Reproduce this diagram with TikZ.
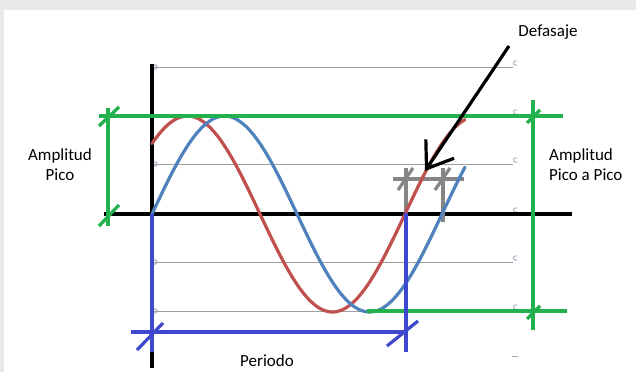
\documentclass[tikz,border=0pt]{standalone}
\usepackage{fontspec}
\setmainfont{Carlito}
\usetikzlibrary{calc,arrows.meta}
\definecolor{bggray}{HTML}{E8E8EA}
\definecolor{wavered}{HTML}{C0504D}
\definecolor{waveblue}{HTML}{4F81BD}
\definecolor{ampgreen}{HTML}{22B14C}
\definecolor{perblue}{HTML}{3F48CC}
\definecolor{phasegray}{HTML}{858585}
\definecolor{markgray}{HTML}{95A3B5}
\begin{document}
\begin{tikzpicture}[x=1pt,y=-1pt,
every node/.style={font=\fontsize{17}{20}\selectfont,inner sep=0pt},
gridln/.style={draw=gray!75,line width=1pt},
endmark/.style={draw=markgray,line width=.8pt},
axis/.style={draw=black,line width=3.2pt},
wave/.style={line width=3.2pt,line cap=round},
amp/.style={draw=ampgreen,line width=3.3pt},
per/.style={draw=perblue,line width=3.2pt},
phaseln/.style={draw=phasegray,line width=3.2pt}]
\useasboundingbox (0,0) rectangle (636,372);
\fill[bggray] (0,0) rectangle (636,372);
\fill[white] (4,10) rectangle (636,372);
% grid lines
\foreach \y in {67,116,164,214,262,311} {
  \draw[gridln] (154,\y) -- (513,\y);
  \draw[endmark] (517,\y-2) arc (60:300:2.3);
}
\foreach \y in {67,164,262,311}
  \draw[endmark] (155,\y) circle (2.2);
\draw[endmark] (512,356) -- (518,356);
% axes
\coordinate (o) at (152,214);
\coordinate (ytop) at (152,64);
\coordinate (ybot) at (152,368);
\coordinate (xl) at (104,214);
\coordinate (xr) at (572,214);
\draw[axis] (ytop) -- (ybot);
\draw[axis] (xl) -- (xr);
% phase markers
\coordinate (sh1) at (406,179);
\coordinate (sh2) at (443,179);
\draw[phaseln] (393,179) -- (464,179);
\draw[phaseln] (406,168) -- (406,214);
\draw[phaseln] (443,168) -- (443,222);
\draw[phaseln] ($(sh1)+(-8,11)$) -- ($(sh1)+(7,-11)$);
\draw[phaseln] ($(sh2)+(-8,11)$) -- ($(sh2)+(7,-11)$);
% waves (period 290)
\draw[wave,draw=wavered] plot[domain=152:465,samples=120] (\x,{214-98*sin(1.24138*(\x-115))});
\draw[wave,draw=waveblue] plot[domain=152:465,samples=120] (\x,{214-98*sin(1.24138*(\x-152))});
% peak amplitude
\coordinate (at) at (108,116);
\coordinate (ab) at (108,214);
\draw[amp] (99,116) -- (563,116);
\draw[amp] (108,108) -- (108,226);
\draw[amp] ($(at)+(-9,10)$) -- ($(at)+(11,-9)$);
\draw[amp] ($(ab)+(-9,12)$) -- ($(ab)+(11,-9)$);
% peak to peak
\coordinate (pt) at (533,116);
\coordinate (pb) at (533,311);
\draw[amp] (367,311) -- (567,311);
\draw[amp] (533,100) -- (533,330);
\draw[amp] ($(pt)+(-6,7)$) -- ($(pt)+(7,-6)$);
\draw[amp] ($(pb)+(-6,8)$) -- ($(pb)+(7,-5)$);
% period
\coordinate (pl) at (152,332);
\coordinate (pr) at (406,332);
\draw[per] (o) -- (152,352);
\draw[per] (406,213) -- (406,352);
\draw[per] (131,332) -- (pr);
\draw[per] ($(pl)+(-15,18)$) -- ($(pl)+(11,-9)$);
\draw[per] ($(pr)+(-19,14)$) -- ($(pr)+(12,-11)$);
% labels
\node[align=center] (lblpico) at (60,165) {Amplitud\\Pico};
\node[align=left,anchor=west] (lblpp) at (549,165) {Amplitud\\Pico a Pico};
\node (lbldef) at (548,32) {Defasaje};
\node (lblper) at (267,361) {Periodo};
\coordinate (arrstart) at (509,46);
\coordinate (arrtip) at (425,171);
\draw[line width=3.2pt,-{Straight Barb[length=24pt,width=34pt]}] (arrstart) -- (arrtip);
\end{tikzpicture}
\end{document}
